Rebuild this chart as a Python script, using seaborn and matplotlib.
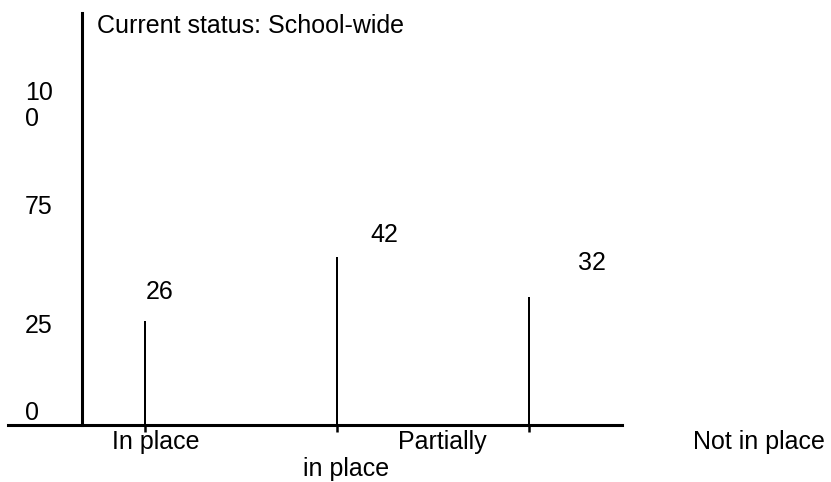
import matplotlib
matplotlib.use("Agg")
import matplotlib.pyplot as plt
import pandas as pd
import seaborn as sns

# Chart content
title = "Current status: School-wide"
categories = ["In place", "Partially in place", "Not in place"]
values = [26, 42, 32]
ytick_labels = ["0", "25", "75", "10\n0"]

sns.set_theme(style="white")
plt.rcParams["font.family"] = ["Liberation Sans", "DejaVu Sans"]

W, H = 831, 482
FS = 18
fig = plt.figure(figsize=(W / 100, H / 100), dpi=100)
ax = fig.add_axes([8 / W, 57 / H, 614 / W, 412 / H])

df = pd.DataFrame({"status": categories, "pct": values})
sns.barplot(data=df, x="status", y="pct", color="black", saturation=1,
            width=0.014, linewidth=0, ax=ax)

ax.set_xlim(-0.7135, 2.484)
ax.set_ylim(0, 103)
ax.set_xlabel("")
ax.set_ylabel("")

# Axis lines: vertical one sits inside the frame, horizontal one runs full width
for side in ("top", "right"):
    ax.spines[side].set_visible(False)
ax.spines["left"].set_position(("axes", 0.1205))
for side in ("left", "bottom"):
    ax.spines[side].set_linewidth(2.2)
    ax.spines[side].set_color("black")

# x ticks: short marks below each bar, labels drawn separately
ax.set_xticks(range(len(categories)))
ax.set_xticklabels([""] * len(categories))
ax.tick_params(axis="x", bottom=True, length=5, width=1.8, direction="out",
               color="black")

# y tick labels, left-aligned with no tick marks
ax.set_yticks([3.75, 25.4, 55, 80.6])
ax.set_yticklabels(ytick_labels)
ax.tick_params(axis="y", left=True, length=0, pad=41, labelsize=FS,
               labelcolor="black")
for lbl in ax.get_yticklabels():
    lbl.set_horizontalalignment("left")
    lbl.set_multialignment("left")
    lbl.set_linespacing(1.1)

# Value labels above each bar
value_offsets = [(15, 29), (47, 22), (63, 34)]
for i, (v, (dx, dy)) in enumerate(zip(values, value_offsets)):
    ax.annotate(str(v), xy=(i, v), xytext=(dx, dy), textcoords="offset pixels",
                ha="center", va="center", fontsize=FS, color="black")

# Category labels under the axis
first, second = categories[1].split(" ", 1)
cat_lines = [
    [(categories[0], 11, -17)],
    [(first, 105, -17), (second, 9, -44)],
    [(categories[2], 230, -17)],
]
for i, lines in enumerate(cat_lines):
    for text, dx, dy in lines:
        ax.annotate(text, xy=(i, 0), xytext=(dx, dy), textcoords="offset pixels",
                    ha="center", va="center", fontsize=FS, color="black",
                    annotation_clip=False)

fig.text(97 / W, 1 - 26 / H, title, ha="left", va="center", fontsize=FS,
         color="black")

fig.savefig("out.png", dpi=100, facecolor="white")
